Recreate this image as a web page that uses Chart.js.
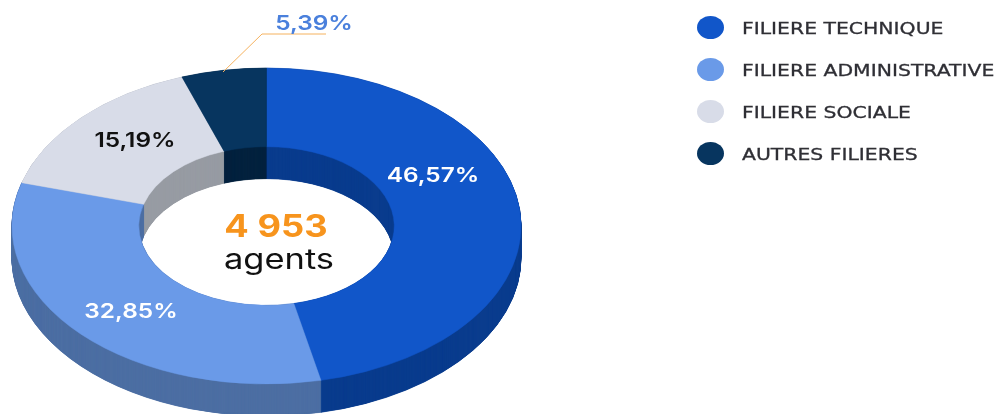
<!DOCTYPE html>
<html lang="fr">
<head>
<meta charset="utf-8">
<title>Agents par filière</title>
<script src="https://cdn.jsdelivr.net/npm/chart.js@4"></script>
<style>
    html, body { margin: 0; padding: 0; background: #fff; overflow: hidden; }
    #wrap { position: relative; width: 998px; height: 414px; filter: blur(0.5px); }
    #legend { position: absolute; left: 697px; top: 8px; margin: 0; padding: 0; list-style: none; }
    #legend li { position: relative; height: 42px; padding-left: 45px; white-space: nowrap;
        font-family: "DejaVu Sans", sans-serif; font-size: 16.5px; line-height: 42px;
        color: #2f2f35; -webkit-text-stroke: 0.3px #2f2f35; }
    #legend span { display: inline-block; transform: scaleX(1.235); transform-origin: left center; }
    #legend i { position: absolute; left: 0; top: 8px; width: 27px; height: 23px; border-radius: 50%; }
</style>
</head>
<body>
<div id="wrap">
    <canvas id="filieresChart" width="998" height="414"></canvas>
    <ul id="legend"></ul>
</div>
<script>
const categories = ['FILIERE TECHNIQUE', 'FILIERE ADMINISTRATIVE', 'FILIERE SOCIALE', 'AUTRES FILIERES'];
const shares = [46.57, 32.85, 15.19, 5.39];
const shareLabels = ['46,57%', '32,85%', '15,19%', '5,39%'];
const topColors = ['#1156c9', '#6a9ae8', '#d8dce8', '#07355f'];
const sideColors = ['#0a3c8e', '#4d6fa3', '#979ca3', '#04223f'];
const totalLabel = '4 953';
const unitLabel = 'agents';

// Where the flat ring ends up on the page
const ring = { x: 266.5, y: 226, rx: 254.5, ry: 158, depth: 32 };

function ringTransform(chart, ctx, shift) {
    const arc = chart.getDatasetMeta(0).data[0];
    const r = arc.outerRadius;
    ctx.setTransform(ring.rx / r, 0, 0, ring.ry / r,
        ring.x - arc.x * ring.rx / r,
        ring.y + shift - arc.y * ring.ry / r);
}

// Tilt the doughnut and draw the thickness under it
const tiltPlugin = {
    id: 'tilt',
    beforeDatasetsDraw(chart) {
        const ctx = chart.ctx;
        const arcs = chart.getDatasetMeta(0).data;
        ctx.save();
        for (let shift = ring.depth; shift > 0; shift -= 0.25) {
            ringTransform(chart, ctx, shift);
            arcs.forEach((arc, i) => {
                const saved = arc.options;
                arc.options = { ...saved, backgroundColor: sideColors[i], borderColor: sideColors[i] };
                arc.draw(ctx);
                arc.options = saved;
            });
        }
        ringTransform(chart, ctx, 0);
    },
    afterDatasetsDraw(chart) {
        chart.ctx.restore();
    }
};

// The reference text is stretched sideways, like the whole picture
function wideText(ctx, text, x, y, stretch) {
    ctx.save();
    ctx.translate(x, y);
    ctx.scale(stretch, 1);
    ctx.fillText(text, 0, 0);
    ctx.restore();
}

// Value labels, leader line and the total in the hole
const labelPlugin = {
    id: 'labels',
    afterDraw(chart) {
        const ctx = chart.ctx;
        ctx.save();
        ctx.textAlign = 'center';
        ctx.textBaseline = 'middle';

        ctx.strokeStyle = '#f5b25f';
        ctx.lineWidth = 1;
        ctx.beginPath();
        ctx.moveTo(223, 72);
        ctx.lineTo(262, 34);
        ctx.lineTo(326, 34);
        ctx.stroke();

        ctx.font = '600 20px Inter, sans-serif';
        ctx.fillStyle = '#ffffff';
        wideText(ctx, shareLabels[0], 433, 176, 1.22);
        wideText(ctx, shareLabels[1], 131, 312, 1.22);
        ctx.fillStyle = '#111111';
        wideText(ctx, shareLabels[2], 135, 141, 1.22);
        ctx.fillStyle = '#4a80dc';
        wideText(ctx, shareLabels[3], 314, 24, 1.22);

        ctx.font = '700 31px Inter, sans-serif';
        ctx.fillStyle = '#f7941d';
        wideText(ctx, totalLabel, 276, 228, 1.17);
        ctx.font = '400 28px Inter, sans-serif';
        ctx.fillStyle = '#111111';
        wideText(ctx, unitLabel, 279, 261, 1.23);
        ctx.restore();
    }
};

new Chart(document.getElementById('filieresChart').getContext('2d'), {
    type: 'doughnut',
    data: {
        labels: categories,
        datasets: [{
            data: shares,
            backgroundColor: topColors,
            borderColor: topColors,
            borderWidth: 0.5,
            clip: false
        }]
    },
    options: {
        responsive: false,
        animation: false,
        cutout: '50.2%',
        plugins: {
            legend: { display: false },
            tooltip: { enabled: false }
        }
    },
    plugins: [tiltPlugin, labelPlugin]
});

// Legend on the right
const legend = document.getElementById('legend');
categories.forEach((name, i) => {
    const item = document.createElement('li');
    const dot = document.createElement('i');
    const text = document.createElement('span');
    dot.style.background = topColors[i];
    text.textContent = name;
    item.appendChild(dot);
    item.appendChild(text);
    legend.appendChild(item);
});
</script>
</body>
</html>
